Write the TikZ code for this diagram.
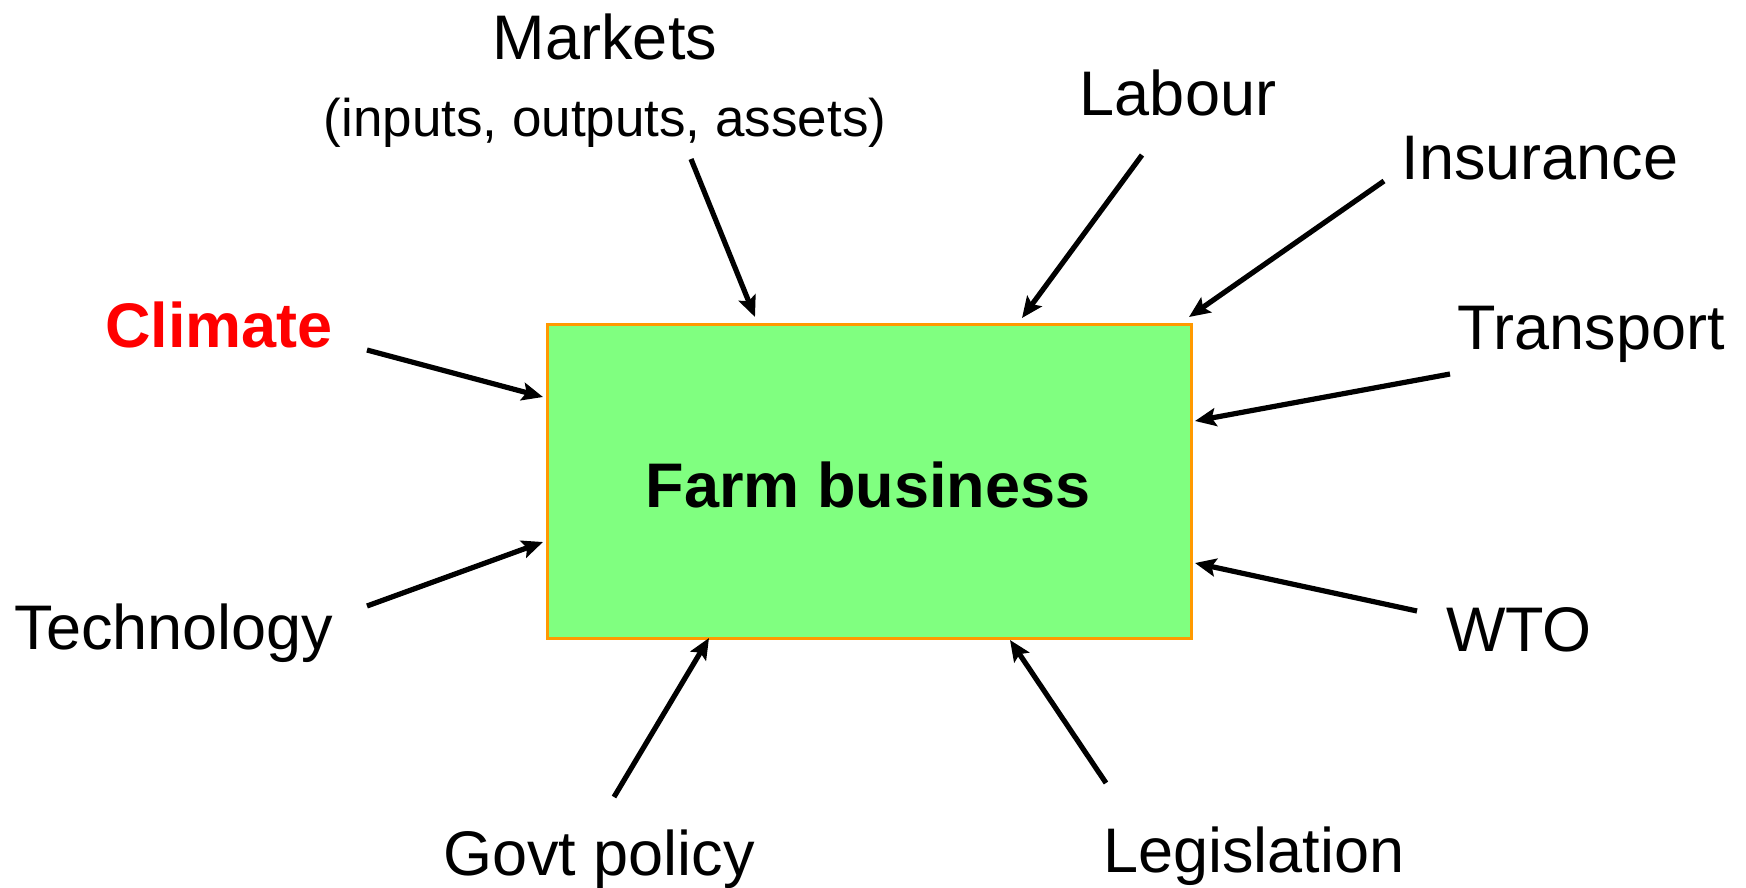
\documentclass[tikz,border=0pt]{standalone}
\usepackage{fontspec}
\setmainfont{Liberation Sans}
\usetikzlibrary{arrows.meta}
\definecolor{boxfill}{HTML}{80FF80}
\definecolor{boxline}{HTML}{FF9900}
\begin{document}
\begin{tikzpicture}[x=1pt,y=-1pt,
  lbl/.style={anchor=base,inner sep=0pt,font=\fontsize{63}{70}\selectfont},
  sublbl/.style={anchor=base,inner sep=0pt,font=\fontsize{53}{60}\selectfont},
  conn/.style={line width=5.2pt,-{Stealth[length=21pt,width=18pt,inset=4pt]}},
]
\useasboundingbox (0,0) rectangle (1746,887);
\node[draw=boxline,fill=boxfill,line width=2.6pt,minimum width=644pt,minimum height=314pt,inner sep=0pt,anchor=north west] (box) at (546,323) {};
\node[anchor=base,inner sep=0pt,font=\fontsize{63}{70}\selectfont\bfseries] (farm) at (868,507) {Farm business};

\node[lbl] (markets) at (605,59) {Markets};
\node[sublbl] (markets2) at (605,136) {(inputs, outputs, assets)};
\node[lbl] (labour) at (1178,115) {Labour};
\node[lbl] (insurance) at (1540,179) {Insurance};
\node[lbl,font=\fontsize{63}{70}\selectfont\bfseries,text=red] (climate) at (219,347) {Climate};
\node[lbl] (transport) at (1591,349) {Transport};
\node[lbl] (technology) at (174,649) {Technology};
\node[lbl] (wto) at (1519,651) {WTO};
\node[lbl] (govt) at (599,875) {Govt policy};
\node[lbl] (legis) at (1254,872) {Legislation};

\coordinate (mS) at (691,159); \coordinate (mE) at (755,317);
\coordinate (lS) at (1142,155); \coordinate (lE) at (1022,318);
\coordinate (iS) at (1384,181); \coordinate (iE) at (1189,317);
\coordinate (cS) at (367,350); \coordinate (cE) at (543,397);
\coordinate (tS) at (1450,374); \coordinate (tE) at (1195,421);
\coordinate (teS) at (367,606); \coordinate (teE) at (543,542);
\coordinate (wS) at (1417,611); \coordinate (wE) at (1195,563);
\coordinate (gS) at (614,797); \coordinate (gE) at (709,638);
\coordinate (leS) at (1106,783); \coordinate (leE) at (1010,640);

\draw[conn] (mS) -- (mE);
\draw[conn] (lS) -- (lE);
\draw[conn] (iS) -- (iE);
\draw[conn] (cS) -- (cE);
\draw[conn] (tS) -- (tE);
\draw[conn] (teS) -- (teE);
\draw[conn] (wS) -- (wE);
\draw[conn] (gS) -- (gE);
\draw[conn] (leS) -- (leE);
\end{tikzpicture}
\end{document}
